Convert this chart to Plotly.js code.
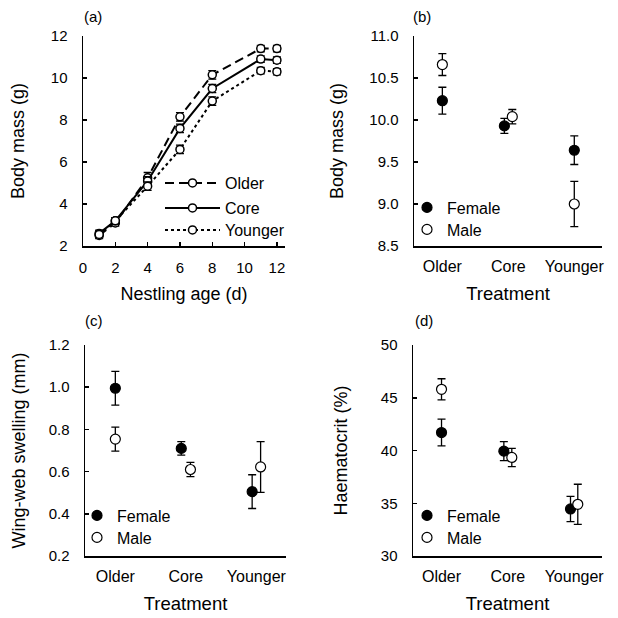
<!DOCTYPE html>
<html>
<head>
<meta charset="utf-8">
<script src="https://cdn.plot.ly/plotly-3.0.1.min.js"></script>
<style>
  html, body { margin: 0; padding: 0; background: #fff; }
  #chart { width: 618px; height: 618px; }
</style>
</head>
<body>
<div id="chart"></div>
<script>
// (a) nestling growth
const ages = [1, 2, 4, 6, 8, 11, 12];
const olderMass = [2.5, 3.1, 5.25, 8.15, 10.15, 11.4, 11.4];
const olderSE = [0.15, 0.15, 0.25, 0.2, 0.2, 0.15, 0.15];
const coreMass = [2.6, 3.2, 5.1, 7.6, 9.5, 10.9, 10.85];
const coreSE = [0.15, 0.15, 0.2, 0.2, 0.2, 0.15, 0.15];
const youngerMass = [2.55, 3.2, 4.85, 6.6, 8.9, 10.35, 10.3];
const youngerSE = [0.15, 0.15, 0.2, 0.2, 0.2, 0.15, 0.15];

// (b)-(d) by treatment and sex
const treatments = ['Older', 'Core', 'Younger'];
const massF = [10.23, 9.93, 9.64];
const massFse = [0.16, 0.09, 0.17];
const massM = [10.66, 10.04, 9.0];
const massMse = [0.13, 0.085, 0.27];
const wingF = [0.995, 0.71, 0.505];
const wingFse = [0.08, 0.032, 0.08];
const wingM = [0.754, 0.61, 0.622];
const wingMse = [0.057, 0.034, 0.12];
const hctF = [41.7, 39.94, 34.46];
const hctFse = [1.27, 0.9, 1.2];
const hctM = [45.8, 39.34, 34.9];
const hctMse = [1.0, 0.87, 1.9];

const font = 'Liberation Sans, Arial, sans-serif';
const catPos = [1, 2, 3];

function growth(name, y, se, dash, leg) {
  return {
    x: ages, y: y, name: name, type: 'scatter', mode: 'lines+markers',
    xaxis: 'x', yaxis: 'y', legend: leg,
    line: {color: 'black', width: 2, dash: dash},
    marker: {symbol: 'circle', size: 8, color: 'white', line: {color: 'black', width: 1.5}},
    error_y: {type: 'data', array: se, color: 'black', thickness: 1.3, width: 4}
  };
}

function sexTrace(name, y, se, jit, filled, ax, leg) {
  return {
    x: catPos.map((p, i) => p + (filled ? -jit[i] : jit[i])),
    y: y, name: name, type: 'scatter', mode: 'markers',
    xaxis: 'x' + ax, yaxis: 'y' + ax, legend: leg,
    marker: {symbol: 'circle', size: 10, color: filled ? 'black' : 'white',
             line: {color: 'black', width: 1.2}},
    error_y: {type: 'data', array: se, color: 'black', thickness: 1.3, width: 4}
  };
}

const jitB = [0, 0.06, 0];
const jitC = [0, 0.065, 0.06];
const jitD = [0, 0.06, 0.055];

const data = [
  growth('Older', olderMass, olderSE, '9px,5px', 'legend'),
  growth('Core', coreMass, coreSE, 'solid', 'legend5'),
  growth('Younger', youngerMass, youngerSE, 'dot', 'legend6'),
  sexTrace('Female', massF, massFse, jitB, true, 2, 'legend2'),
  sexTrace('Male', massM, massMse, jitB, false, 2, 'legend7'),
  sexTrace('Female', wingF, wingFse, jitC, true, 3, 'legend3'),
  sexTrace('Male', wingM, wingMse, jitC, false, 3, 'legend8'),
  sexTrace('Female', hctF, hctFse, jitD, true, 4, 'legend4'),
  sexTrace('Male', hctM, hctMse, jitD, false, 4, 'legend9')
];

const W = 618;
function ax(extra) {
  return Object.assign({
    showline: true, linecolor: 'black', linewidth: 1.5,
    ticks: 'inside', ticklen: 4, tickwidth: 1.5, tickcolor: 'black',
    showgrid: false, zeroline: false, automargin: false,
    tickfont: {family: font, size: 15, color: 'black'}
  }, extra);
}
function catAxis(dom, anchor) {
  return ax({domain: dom, anchor: anchor, range: [0.57, 3.42], tickvals: catPos,
    ticktext: treatments, ticks: '', ticklabelstandoff: 5,
    tickfont: {family: font, size: 16, color: 'black'},
    title: {text: 'Treatment', font: {family: font, size: 18.5, color: 'black'}, standoff: 13}});
}
function ytitle(t, s) {
  return {text: t, font: {family: font, size: 18, color: 'black'}, standoff: s};
}
const topY = [1 - 246 / W, 1 - 36 / W];
const botY = [1 - 556 / W, 1 - 345 / W];

// one legend box per entry so each row sits where the original has it
function leg(x, yTop, extra) {
  return Object.assign({
    font: {family: font, size: 16, color: 'black'},
    bgcolor: 'rgba(0,0,0,0)', borderwidth: 0,
    xanchor: 'left', yanchor: 'top', x: x / W, y: 1 - yTop / W
  }, extra || {});
}

const layout = {
  width: 618, height: 618,
  margin: {l: 0, r: 0, t: 0, b: 0},
  paper_bgcolor: 'white', plot_bgcolor: 'white',
  font: {family: font, color: 'black'},
  showlegend: true,
  xaxis: ax({domain: [83 / W, 285 / W], anchor: 'y', range: [0, 12.5],
    tickvals: [0, 2, 4, 6, 8, 10, 12], ticklabelstandoff: 7,
    title: {text: 'Nestling age (d)', font: {family: font, size: 18, color: 'black'}, standoff: 13}}),
  yaxis: ax({domain: topY, anchor: 'x', range: [2, 12], dtick: 2, ticklabelstandoff: 11,
    title: ytitle('Body mass (g)', 21)}),
  xaxis2: catAxis([414 / W, 602 / W], 'y2'),
  yaxis2: ax({domain: topY, anchor: 'x2', range: [8.5, 11], dtick: 0.5, tickformat: '.1f',
    ticklabelstandoff: 11, title: ytitle('Body mass (g)', 21)}),
  xaxis3: catAxis([85 / W, 286 / W], 'y3'),
  yaxis3: ax({domain: botY, anchor: 'x3', range: [0.2, 1.2], dtick: 0.2, tickformat: '.1f',
    ticklabelstandoff: 11, title: ytitle('Wing-web swelling (mm)', 18)}),
  xaxis4: catAxis([413 / W, 602 / W], 'y4'),
  yaxis4: ax({domain: botY, anchor: 'x4', range: [30, 50], dtick: 5,
    ticklabelstandoff: 11, title: ytitle('Haematocrit (%)', 28)}),
  legend: leg(160, 166, {itemwidth: 55}),
  legend5: leg(160, 191, {itemwidth: 55}),
  legend6: leg(160, 213, {itemwidth: 55}),
  legend2: leg(407, 190.5),
  legend7: leg(407, 212.5),
  legend3: leg(77, 498.5),
  legend8: leg(77, 520.5),
  legend4: leg(407, 498.5),
  legend9: leg(407, 520.5),
  annotations: [
    ['(a)', 82, 16], ['(b)', 411, 16], ['(c)', 83, 320], ['(d)', 413, 320]
  ].map(a => ({
    text: a[0], xref: 'paper', yref: 'paper', x: a[1] / W, y: 1 - a[2] / W,
    xanchor: 'left', yanchor: 'middle', showarrow: false,
    font: {family: font, size: 15, color: 'black'}
  }))
};

Plotly.newPlot('chart', data, layout, {staticPlot: true, displayModeBar: false});
</script>
</body>
</html>
